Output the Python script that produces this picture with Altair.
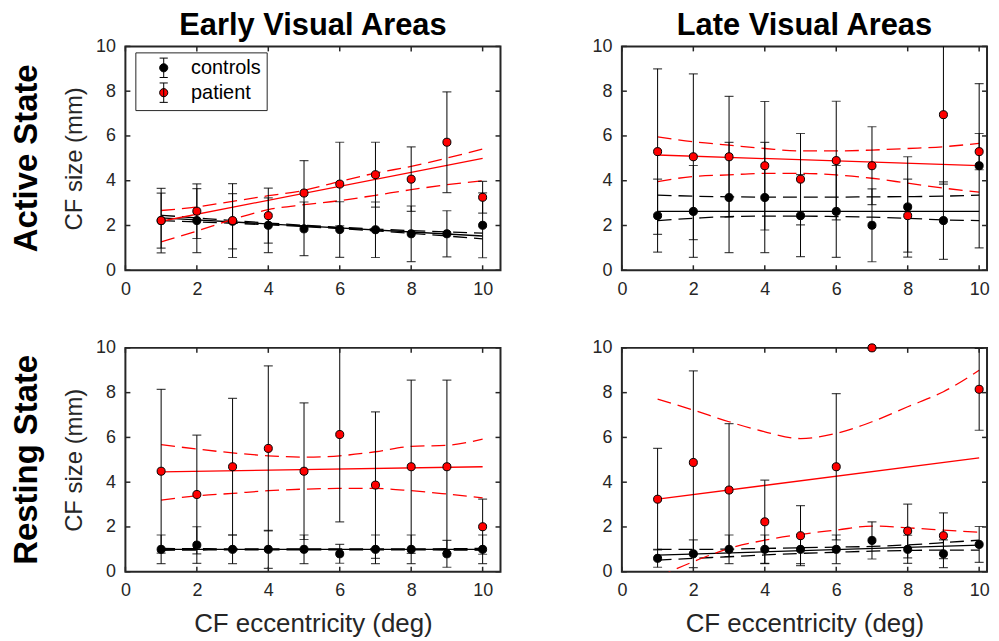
import altair as alt
import pandas as pd

FONT = "Liberation Sans"
AX = "#262626"

X = [1, 2, 3, 4, 5, 6, 7, 8, 9, 10]
FIT_X = [1, 10]
XTICKS = [0, 2, 4, 6, 8, 10]
YTICKS = [0, 2, 4, 6, 8, 10]
GROUPS = ["controls", "patient"]
COLORS = ["#000000", "#ff0000"]

# ---- Early visual areas, active state ----
EA_C = [2.22, 2.22, 2.19, 2.01, 1.85, 1.82, 1.81, 1.63, 1.63, 2.01]
EA_C_ERR = [1.44, 1.43, 1.23, 1.22, 1.20, 1.24, 1.24, 1.24, 1.03, 1.45]
EA_P = [2.22, 2.64, 2.22, 2.44, 3.45, 3.85, 4.27, 4.07, 5.72, 3.26]
EA_P_ERR = [1.23, 1.22, 1.65, 1.23, 1.45, 1.87, 1.45, 1.44, 2.25, 0.71]
EA_C_FIT = [2.34, 1.53]
EA_C_HI = [2.46, 2.34, 2.22, 2.11, 2.01, 1.92, 1.84, 1.77, 1.71, 1.66]
EA_C_LO = [2.22, 2.16, 2.10, 2.03, 1.95, 1.86, 1.76, 1.65, 1.53, 1.40]
EA_P_FIT = [2.19, 5.00]
EA_P_HI = [2.67, 2.83, 3.08, 3.33, 3.57, 3.97, 4.34, 4.64, 5.01, 5.42]
EA_P_LO = [1.27, 1.75, 2.27, 2.71, 2.93, 3.11, 3.35, 3.60, 3.82, 4.00]

# ---- Late visual areas, active state ----
LA_C = [2.44, 2.63, 3.25, 3.25, 2.44, 2.63, 2.01, 2.83, 2.22, 4.67]
LA_C_ERR = [1.63, 2.05, 2.46, 2.46, 1.83, 2.05, 1.63, 2.24, 1.73, 3.67]
LA_P = [5.30, 5.07, 5.07, 4.67, 4.07, 4.90, 4.67, 2.44, 6.95, 5.30]
LA_P_ERR = [3.70, 3.70, 2.70, 2.87, 2.04, 2.65, 1.74, 1.63, 3.10, 0.81]
LA_C_FIT = [2.63, 2.63]
LA_C_HI = [3.36, 3.31, 3.28, 3.27, 3.27, 3.27, 3.28, 3.29, 3.31, 3.36]
LA_C_LO = [2.22, 2.32, 2.40, 2.42, 2.42, 2.40, 2.37, 2.32, 2.25, 2.22]
LA_P_FIT = [5.15, 4.67]
LA_P_HI = [5.96, 5.74, 5.59, 5.44, 5.33, 5.33, 5.37, 5.44, 5.52, 5.67]
LA_P_LO = [3.96, 4.19, 4.26, 4.33, 4.33, 4.26, 4.11, 3.89, 3.67, 3.49]

# ---- Early visual areas, resting state ----
ER_C = [1.00, 1.19, 1.00, 1.00, 1.00, 0.80, 1.00, 1.00, 0.80, 1.00]
ER_C_ERR = [0.64, 0.82, 0.64, 0.85, 0.64, 0.42, 0.64, 0.64, 0.60, 0.64]
ER_P = [4.49, 3.45, 4.69, 5.51, 4.49, 6.13, 3.87, 4.69, 4.69, 2.01]
ER_P_ERR = [3.66, 2.65, 3.05, 3.69, 3.05, 3.90, 3.27, 3.87, 3.87, 1.23]
ER_C_FIT = [1.00, 1.00]
ER_C_HI = [1.04, 1.03, 1.02, 1.02, 1.02, 1.02, 1.02, 1.02, 1.03, 1.04]
ER_C_LO = [0.96, 0.97, 0.98, 0.98, 0.98, 0.98, 0.98, 0.98, 0.97, 0.96]
ER_P_FIT = [4.46, 4.69]
ER_P_HI = [5.68, 5.48, 5.31, 5.18, 5.12, 5.18, 5.36, 5.60, 5.65, 5.92]
ER_P_LO = [3.20, 3.39, 3.50, 3.62, 3.69, 3.72, 3.72, 3.62, 3.47, 3.30]

# ---- Late visual areas, resting state ----
LR_C = [0.60, 0.80, 1.00, 1.00, 1.00, 1.00, 1.40, 1.00, 0.80, 1.22]
LR_C_ERR = [0.40, 0.62, 0.64, 0.64, 0.64, 0.64, 0.83, 0.63, 0.62, 0.80]
LR_P = [3.24, 4.88, 3.65, 2.23, 1.61, 4.69, 10.00, 1.82, 1.61, 8.15]
LR_P_ERR = [2.27, 4.09, 2.97, 1.86, 1.34, 3.27, 0.00, 1.20, 1.02, 1.83]
LR_C_FIT = [0.74, 1.19]
LR_C_HI = [1.00, 1.00, 1.01, 1.04, 1.07, 1.10, 1.13, 1.20, 1.30, 1.41]
LR_C_LO = [0.52, 0.60, 0.67, 0.75, 0.82, 0.87, 0.92, 0.95, 0.97, 0.97]
LR_P_FIT = [3.24, 5.09]
LR_P_HI = [7.71, 7.22, 6.70, 6.25, 5.95, 6.18, 6.70, 7.37, 8.04, 9.00]
LR_P_LO = [-0.25, 0.45, 1.04, 1.41, 1.67, 1.86, 2.04, 1.96, 1.86, 1.76]

W_L, W_R, H = 377, 367, 225
XMAX_L, XMAX_R = 10.5, 10.22
TICK_LEN = 5

LEGEND_PATH = ("M0,-1L0,1M-0.42,-1L0.42,-1M-0.42,1L0.42,1"
               "M0.42,0A0.42,0.42,0,1,1,-0.42,0A0.42,0.42,0,1,1,0.42,0Z")


def panel(c, c_err, p, p_err, c_fit, c_hi, c_lo, p_fit, p_hi, p_lo,
          width, xmax, top_title=None, row_title=None, ytitle=False,
          xtitle=False, legend=False):
    xs = alt.Scale(domain=[0, xmax], nice=False, zero=False)
    ys = alt.Scale(domain=[0, 10], nice=False, zero=False)
    xaxis = alt.Axis(
        values=XTICKS, ticks=False, domain=False, grid=False, labelFlush=False,
        labelFont=FONT, labelFontSize=18, labelColor=AX, labelPadding=10,
        title="CF eccentricity (deg)" if xtitle else None,
        titleFont=FONT, titleFontSize=26, titleFontWeight="normal",
        titleColor=AX, titlePadding=11,
    )
    yaxis = alt.Axis(
        values=YTICKS, ticks=False, domain=False, grid=False, labelFlush=False,
        labelFont=FONT, labelFontSize=18, labelColor=AX, labelPadding=10,
        title="CF size (mm)" if ytitle else None,
        titleFont=FONT, titleFontSize=24, titleFontWeight="normal",
        titleColor=AX, titlePadding=9,
    )

    def xenc(field):
        return alt.X(field, type="quantitative", scale=xs, axis=xaxis)

    def yenc(field):
        return alt.Y(field, type="quantitative", scale=ys, axis=yaxis)

    pts_rows, bar_rows, cap_rows, band_rows, fit_rows = [], [], [], [], []
    for g, vals, errs, fit, hi, lo in [
        ("controls", c, c_err, c_fit, c_hi, c_lo),
        ("patient", p, p_err, p_fit, p_hi, p_lo),
    ]:
        for xv, v, e in zip(X, vals, errs):
            pts_rows.append({"x": xv, "y": v, "grp": g})
            bar_rows.append({"x": xv, "y": v - e, "hi": v + e, "grp": g})
            cap_rows.append({"x": xv, "y": v - e, "grp": g})
            cap_rows.append({"x": xv, "y": v + e, "grp": g})
        for xv, v in zip(FIT_X, fit):
            fit_rows.append({"x": xv, "y": v, "grp": g})
        for xv, v in zip(X, hi):
            band_rows.append({"x": xv, "y": v, "grp": g, "side": "hi"})
        for xv, v in zip(X, lo):
            band_rows.append({"x": xv, "y": v, "grp": g, "side": "lo"})

    pts = pd.DataFrame(pts_rows)
    bars = pd.DataFrame(bar_rows)
    caps = pd.DataFrame(cap_rows)
    bands = pd.DataFrame(band_rows)
    fits = pd.DataFrame(fit_rows)

    layers = []
    for g, col in zip(GROUPS, COLORS):
        layers.append(
            alt.Chart(bands[bands.grp == g])
            .mark_line(color=col, strokeWidth=1.3, strokeDash=[14, 7], clip=True,
                       interpolate="monotone")
            .encode(x=xenc("x"), y=yenc("y"), detail="side:N")
        )
        layers.append(
            alt.Chart(fits[fits.grp == g])
            .mark_line(color=col, strokeWidth=1.3, clip=True)
            .encode(x=xenc("x"), y=yenc("y"))
        )

    layers.append(
        alt.Chart(bars).mark_rule(color="black", strokeWidth=1, clip=True)
        .encode(x=xenc("x"), y=yenc("y"), y2="hi")
    )
    layers.append(
        alt.Chart(caps).mark_tick(color="black", orient="horizontal", size=9,
                                  thickness=1.2, clip=True)
        .encode(x=xenc("x"), y=yenc("y"))
    )

    if legend:
        leg = alt.Legend(
            orient="none", legendX=10, legendY=6, title=None,
            strokeColor=AX, padding=5, fillColor="white",
            symbolType=LEGEND_PATH, symbolSize=380, symbolStrokeColor="black",
            symbolStrokeWidth=1, symbolOffset=13, labelOffset=17,
            labelFont=FONT, labelFontSize=20, labelColor="black",
            rowPadding=0, labelLimit=200,
        )
    else:
        leg = None
    layers.append(
        alt.Chart(pts).mark_circle(size=65, stroke="black", strokeWidth=1, opacity=1)
        .encode(
            x=xenc("x"), y=yenc("y"),
            fill=alt.Fill("grp:N", scale=alt.Scale(domain=GROUPS, range=COLORS),
                          legend=leg),
        )
    )

    # inward tick marks of the MATLAB style box
    xt = pd.DataFrame({"x": XTICKS})
    yt = pd.DataFrame({"y": YTICKS})
    layers.append(
        alt.Chart(xt).mark_rule(color=AX, strokeWidth=1.5)
        .encode(x=xenc("x"), y=alt.value(H), y2=alt.value(H - TICK_LEN))
    )
    layers.append(
        alt.Chart(xt).mark_rule(color=AX, strokeWidth=1.5)
        .encode(x=xenc("x"), y=alt.value(0), y2=alt.value(TICK_LEN))
    )
    layers.append(
        alt.Chart(yt).mark_rule(color=AX, strokeWidth=1.5)
        .encode(y=yenc("y"), x=alt.value(0), x2=alt.value(TICK_LEN))
    )
    layers.append(
        alt.Chart(yt).mark_rule(color=AX, strokeWidth=1.5)
        .encode(y=yenc("y"), x=alt.value(width), x2=alt.value(width - TICK_LEN))
    )

    if row_title:
        layers.append(
            alt.Chart(pd.DataFrame({"label": [row_title]}))
            .mark_text(angle=270, font=FONT, fontSize=33, fontWeight="bold",
                       color="black", align="center", baseline="middle")
            .encode(text="label:N", x=alt.value(-99), y=alt.value(H / 2))
        )

    props = dict(width=width, height=H)
    if top_title:
        props["title"] = alt.TitleParams(
            top_title, font=FONT, fontSize=31, fontWeight="bold", color="black",
            anchor="middle", offset=-5,
        )
    return alt.layer(*layers).properties(**props)


tl = panel(EA_C, EA_C_ERR, EA_P, EA_P_ERR, EA_C_FIT, EA_C_HI, EA_C_LO,
           EA_P_FIT, EA_P_HI, EA_P_LO, W_L, XMAX_L,
           top_title="Early Visual Areas", row_title="Active State",
           ytitle=True, legend=True)
tr = panel(LA_C, LA_C_ERR, LA_P, LA_P_ERR, LA_C_FIT, LA_C_HI, LA_C_LO,
           LA_P_FIT, LA_P_HI, LA_P_LO, W_R, XMAX_R,
           top_title="Late Visual Areas")
bl = panel(ER_C, ER_C_ERR, ER_P, ER_P_ERR, ER_C_FIT, ER_C_HI, ER_C_LO,
           ER_P_FIT, ER_P_HI, ER_P_LO, W_L, XMAX_L,
           row_title="Resting State", ytitle=True, xtitle=True)
br = panel(LR_C, LR_C_ERR, LR_P, LR_P_ERR, LR_C_FIT, LR_C_HI, LR_C_LO,
           LR_P_FIT, LR_P_HI, LR_P_LO, W_R, XMAX_R, xtitle=True)

top = alt.hconcat(tl, tr, spacing=88).resolve_scale(fill="independent").resolve_legend(fill="independent")
bottom = alt.hconcat(bl, br, spacing=88).resolve_scale(fill="independent").resolve_legend(fill="independent")

chart = (
    alt.vconcat(top, bottom, spacing=39)
    .resolve_scale(fill="independent")
    .resolve_legend(fill="independent")
    .properties(padding={"left": 2, "top": 0, "right": 0, "bottom": 0},
                background="white")
    .configure_view(stroke=AX, strokeWidth=2)
)

chart.save("out.html", embed_options={"renderer": "svg", "actions": False})
